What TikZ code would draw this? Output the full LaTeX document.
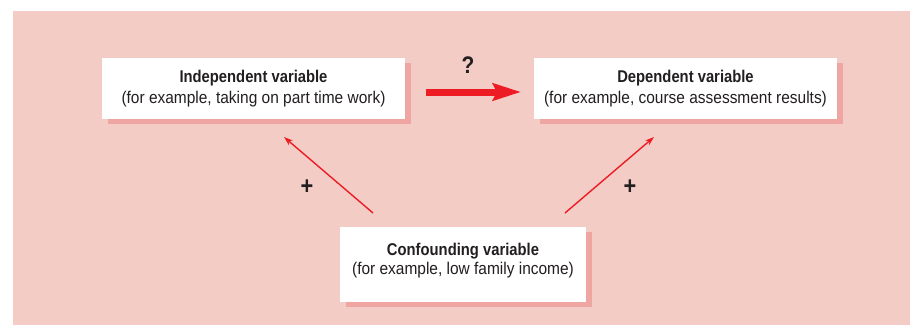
\documentclass[tikz,border=0pt]{standalone}
\usepackage{fontspec}
\setmainfont{Liberation Sans}[FakeStretch=0.91, BoldFeatures={FakeStretch=0.87}]
\usetikzlibrary{arrows.meta,shadows}
\definecolor{bgpink}{HTML}{F3CCC6}
\definecolor{shadowpink}{HTML}{EFA5A2}
\definecolor{arrowred}{HTML}{ED1C24}
\definecolor{textgrey}{HTML}{231F20}
\begin{document}
\begin{tikzpicture}[x=1pt,y=-1pt,
  varbox/.style={fill=white, inner sep=0pt, align=center, text=textgrey,
    font=\fontsize{17}{21}\selectfont,
    drop shadow={shadow xshift=6pt, shadow yshift=-5pt, fill=shadowpink, opacity=1}},
  vartext/.style={inner sep=0pt, align=center, text=textgrey, font=\fontsize{17}{19}\selectfont},
  thinarrow/.style={draw=arrowred, line width=1.4pt, -{Stealth[length=9pt,width=6pt]}},
  sign/.style={font=\bfseries\fontsize{25}{25}\selectfont, inner sep=0pt, text=textgrey}]
\useasboundingbox (0,0) rectangle (914,325);
\fill[bgpink] (13,11) rectangle (910,325);
\node[varbox, minimum width=303pt, minimum height=61pt] (ind) at (253.5,88.5)
  {\textbf{Independent variable}\\(for example, taking on part time work)};
\node[varbox, minimum width=303pt, minimum height=61pt] (dep) at (685.5,88.5)
  {\textbf{Dependent variable}\\(for example, course assessment results)};
\node[varbox, minimum width=246pt, minimum height=75pt] (conf) at (463,264.5) {};
\node[vartext] (conftext) at (463,261)
  {\textbf{Confounding variable}\\(for example, low family income)};
\coordinate (qs) at (426,92);
\coordinate (qe) at (521,92);
\draw[draw=arrowred, line width=7pt, -{Stealth[length=28pt,width=17pt,inset=4pt]}] (qs) -- (qe);
\node[sign, font=\bfseries\fontsize{24}{24}\selectfont] (q) at (468,65) {?};
\coordinate (l1) at (373,213);
\coordinate (l2) at (284,137);
\coordinate (r1) at (565,213);
\coordinate (r2) at (654,137);
\draw[thinarrow] (l1) -- (l2);
\draw[thinarrow] (r1) -- (r2);
\node[sign] (pl) at (307,187) {+};
\node[sign] (pr) at (630,187) {+};
\end{tikzpicture}
\end{document}
